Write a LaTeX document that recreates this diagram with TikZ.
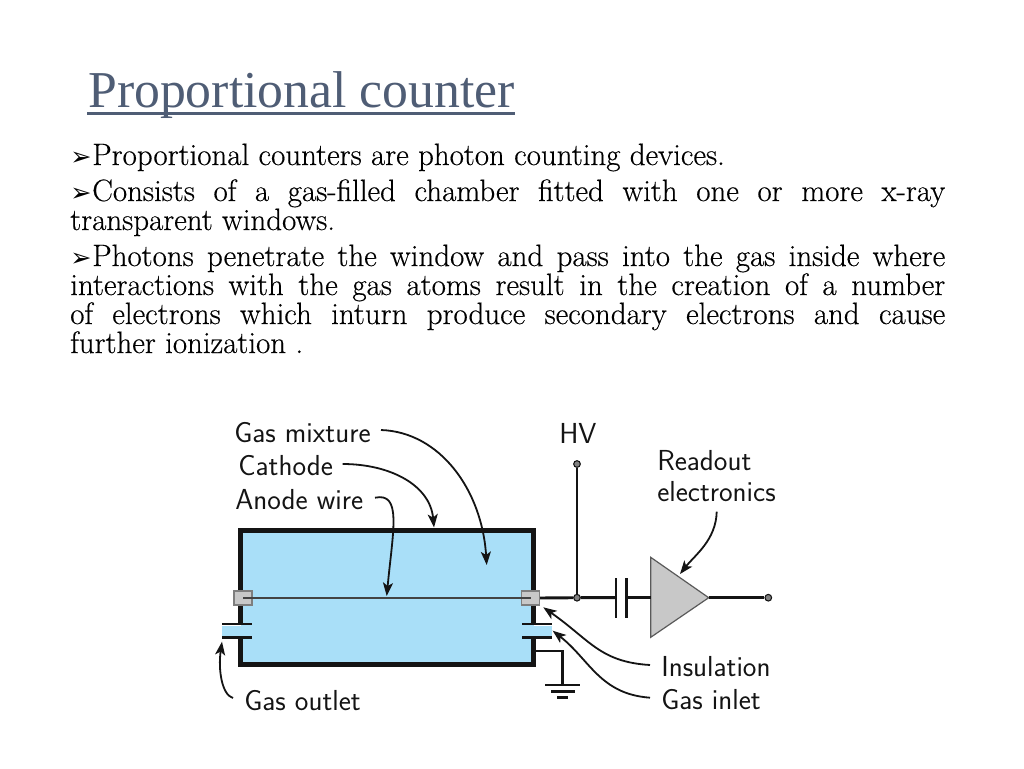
\documentclass[tikz,border=0pt]{standalone}
\usepackage{fontspec}
\usetikzlibrary{arrows.meta}
\newfontfamily\titlefont{Liberation Serif}
\newfontfamily\bulletfont{DejaVu Sans}
\newfontfamily\bodyfont{Latin Modern Roman}[FakeBold=0.35]
\definecolor{titleblue}{HTML}{4F5D75}
\definecolor{gasblue}{HTML}{A9DFF8}
\definecolor{partgray}{HTML}{C8C8C8}
\definecolor{ink}{HTML}{141414}
\newcommand{\bul}{{\bulletfont\fontsize{19}{19}\selectfont ➢}}
\tikzset{
  x=0.75pt,y=-0.75pt,
  titletext/.style={anchor=base west,inner sep=0pt,text=titleblue,font=\titlefont\fontsize{38.8}{40}\selectfont},
  bodyline/.style={anchor=base west,inner sep=0pt,text=black,font=\bodyfont\fontsize{23.2}{26}\selectfont},
  bulletmark/.style={anchor=base west,inner sep=0pt,text=black},
  lab/.style={anchor=base west,inner sep=0pt,text=ink,font=\sffamily\fontsize{21.7}{24}\selectfont},
  wall/.style={draw=ink,line width=3.4pt,line cap=butt},
  plate/.style={draw=ink,line width=2.1pt},
  wire/.style={draw=ink,line width=2.2pt},
  thinwire/.style={draw=ink!80,line width=0.9pt},
  part/.style={draw=ink!55,fill=partgray,line width=0.8pt},
  dot/.style={circle,draw=ink,fill=gray,line width=0.8pt,minimum size=5pt,inner sep=0pt},
  call/.style={draw=ink,line width=1.35pt,-{Stealth[length=10pt,width=7.5pt,inset=2.5pt]}},
  gnd/.style={draw=ink,line width=1.9pt},
}
\begin{document}
\begin{tikzpicture}
\useasboundingbox (0,0) rectangle (1024,768);
\fill[white] (0,0) rectangle (1024,768);
% title
\node[titletext] (title) at (88,107) {Proportional counter};
\coordinate (ulA) at (87,113.5);
\coordinate (ulB) at (515,113.5);
\draw[titleblue,line width=2.2pt] (ulA) -- (ulB);
% body
\node[bulletmark] (b1) at (70,165) {\bul};
\node[bodyline] (l1) at (92,165) {Proportional counters are photon counting devices.};
\node[bulletmark] (b2) at (70,201) {\bul};
\node[bodyline] (l2) at (92,201) {\makebox[639.75pt][s]{Consists of a gas-filled chamber fitted with one or more x-ray}};
\node[bodyline] (l3) at (70,230) {transparent windows.};
\node[bulletmark] (b3) at (70,266) {\bul};
\node[bodyline] (l4) at (92,266) {\makebox[639.75pt][s]{Photons penetrate the window and pass into the gas inside where}};
\node[bodyline] (l5) at (70,295) {\makebox[656.25pt][s]{interactions with the gas atoms result in the creation of a number}};
\node[bodyline] (l6) at (70,324) {\makebox[656.25pt][s]{of electrons which inturn produce secondary electrons and cause}};
\node[bodyline] (l7) at (70,353) {further ionization .};
% chamber
\fill[gasblue] (240.5,530.5) rectangle (533.5,664.5);
\fill[gasblue] (222,626) rectangle (241,636);
\fill[gasblue] (533,626) rectangle (552,636);
\draw[wall] (240.5,624) -- (240.5,530.5) -- (533.5,530.5) -- (533.5,624);
\draw[wall] (240.5,637) -- (240.5,664.5) -- (533.5,664.5) -- (533.5,637);
% gas ports
\draw[plate] (222,624) -- (252,624);
\draw[plate] (222,637.5) -- (252,637.5);
\draw[plate] (522,624) -- (552,624);
\draw[plate] (522,637.5) -- (552,637.5);
% insulators
\node[part,minimum width=13.5pt,minimum height=10.5pt,inner sep=0pt] (insL) at (243,598) {};
\node[part,minimum width=13.5pt,minimum height=10.5pt,inner sep=0pt] (insR) at (530.5,598) {};
\draw[thinwire] (insL.center) -- (insR.center);
% HV and coupling
\node[dot] (hv) at (577,464) {};
\node[dot] (junction) at (577,597.7) {};
\coordinate (capL) at (616,597.7);
\coordinate (capR) at (626.7,597.7);
\draw[wire] (hv) -- (junction);
\draw[wire] (insR.east) -- (junction) -- (capL);
\draw[wire] (capL |- 0,578) -- (capL |- 0,618);
\draw[wire] (capR |- 0,578) -- (capR |- 0,618);
% amplifier
\coordinate (ampA) at (650.7,557.3);
\coordinate (ampB) at (650.7,637.3);
\coordinate (ampTip) at (708.7,597.7);
\coordinate (ampIn) at (650.7,597.7);
\draw[draw=ink!70,fill=partgray,line width=0.9pt] (ampA) -- (ampTip) -- (ampB) -- cycle;
\draw[wire] (capR) -- (ampIn);
\node[dot] (out) at (768.3,597.7) {};
\draw[wire] (ampTip) -- (out);
% ground
\coordinate (gndS) at (535,650.7);
\coordinate (gndC) at (562.5,650.7);
\coordinate (gndB) at (562.5,685);
\draw[draw=ink,line width=1.6pt] (gndS) -- (gndC) -- (gndB);
\draw[gnd] (545,685) -- (580,685);
\draw[gnd] (551,691.5) -- (575,691.5);
\draw[gnd] (557,697.5) -- (568,697.5);
% labels
\node[lab] (gm) at (234,442) {Gas mixture};
\node[lab] (ca) at (238,475) {Cathode};
\node[lab] (an) at (235,509) {Anode wire};
\node[lab] (ho) at (559,443) {HV};
\node[lab] (re) at (657,470) {Readout};
\node[lab] (el) at (657,501) {electronics};
\node[lab] (in) at (661,676) {Insulation};
\node[lab] (gi) at (661,709) {Gas inlet};
\node[lab] (go) at (244,710) {Gas outlet};
% callout targets
\coordinate (tGm) at (486.7,565);
\coordinate (tCa) at (434,527.5);
\coordinate (tAn) at (386.7,596);
\coordinate (tGo) at (222,641.7);
\coordinate (tRe) at (680,574);
\coordinate (tIn) at (543.3,607.3);
\coordinate (tGi) at (552.7,630.7);
\coordinate (sGm) at (381,430);
\coordinate (sCa) at (342.7,464);
\coordinate (sAn) at (375,497.7);
\coordinate (sGo) at (233,698);
\coordinate (sRe) at (716.7,511.7);
\coordinate (sIn) at (650,665);
\coordinate (sGi) at (650,697.7);
\draw[call] (sGm) .. controls (440,432) and (482,490) .. (tGm);
\draw[call] (sCa) .. controls (390,464) and (430,485) .. (tCa);
\draw[call] (sAn) .. controls (402,492) and (393,530) .. (tAn);
\draw[call] (sGo) .. controls (222,695) and (218,670) .. (tGo);
\draw[call] (sRe) .. controls (716,540) and (695,555) .. (tRe);
\draw[call] (sIn) .. controls (600,662) and (590,640) .. (tIn);
\draw[call] (sGi) .. controls (600,694) and (590,660) .. (tGi);
\end{tikzpicture}
\end{document}
